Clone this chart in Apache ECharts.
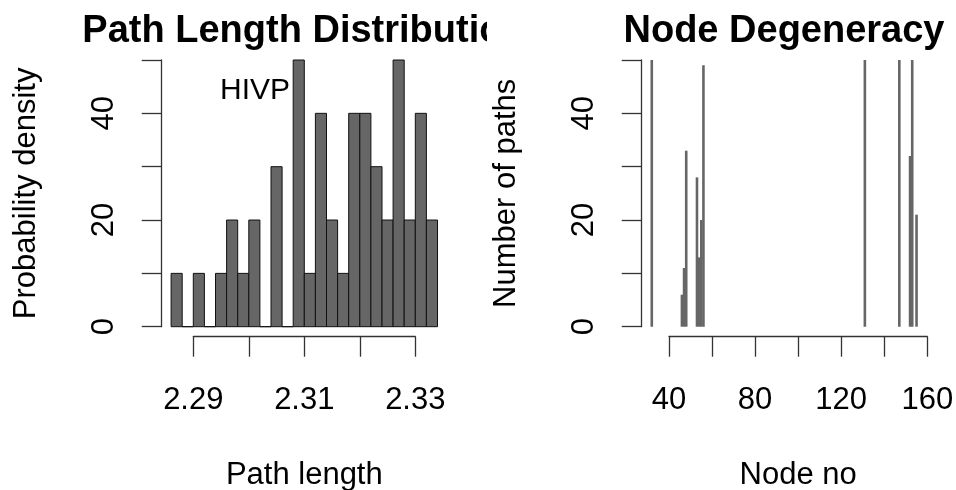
<!DOCTYPE html>
<html>
<head>
<meta charset="utf-8">
<script src="https://cdn.jsdelivr.net/npm/echarts@6/dist/echarts.min.js"></script>
<style>
html,body{margin:0;padding:0;background:#fff;}
#chart{width:956px;height:490px;}
</style>
</head>
<body>
<div id="chart"></div>
<script>
// Left panel: histogram of path lengths
const pathBreaks = [2.286, 2.288, 2.290, 2.292, 2.294, 2.296, 2.298, 2.300, 2.302, 2.304, 2.306, 2.308, 2.310,
                    2.312, 2.314, 2.316, 2.318, 2.320, 2.322, 2.324, 2.326, 2.328, 2.330, 2.332, 2.334];
const pathDensity = [10, 0, 10, 0, 10, 20, 10, 20, 0, 30, 0, 50, 10, 40, 20, 10, 40, 40, 30, 20, 50, 20, 40, 20];
const pathTicks = [2.29, 2.30, 2.31, 2.32, 2.33];

// Right panel: node degeneracy
const nodeNo    = [32, 46, 47, 48, 53, 54, 55, 56, 131, 147, 152, 153, 155];
const nodePaths = [50,  6, 11, 33, 28, 13, 20, 49,  50,  50,  32,  50,  21];
const nodeTicks = [40, 60, 80, 100, 120, 140, 160];
const countTicks = [0, 10, 20, 30, 40, 50];

const FONT = 'Liberation Sans, Arial, Helvetica, sans-serif';
const AXIS_COLOR = '#333';

const histData = pathDensity.map((d, i) => [pathBreaks[i], pathBreaks[i + 1], d]);
const nodeData = nodeNo.map((n, i) => [n, nodePaths[i]]);

function yAxisCfg(gridIndex, offset, name) {
  return {
    type: 'value', gridIndex, min: countTicks[0], max: countTicks[countTicks.length - 1], interval: 10,
    offset,
    name, nameLocation: 'middle', nameGap: 120,
    nameTextStyle: {fontFamily: FONT, fontSize: 31, color: '#000'},
    axisLine: {show: true, lineStyle: {color: AXIS_COLOR, width: 1.3}},
    axisTick: {show: true, length: 20, lineStyle: {color: AXIS_COLOR, width: 1.3}},
    axisLabel: {
      show: true, rotate: 90, margin: 42, fontFamily: FONT, fontSize: 31, color: '#000',
      formatter: v => (v % 20 === 0 ? String(v) : '')
    },
    splitLine: {show: false}
  };
}

function xAxisCfg(gridIndex, ticks, interval, name, fmt) {
  return {
    type: 'value', gridIndex, min: ticks[0], max: ticks[ticks.length - 1], interval,
    offset: 10,
    name, nameLocation: 'middle', nameGap: 123,
    nameTextStyle: {fontFamily: FONT, fontSize: 31, color: '#000'},
    axisLine: {show: true, onZero: false, lineStyle: {color: AXIS_COLOR, width: 1.3}},
    axisTick: {show: true, length: 20, lineStyle: {color: AXIS_COLOR, width: 1.3}},
    axisLabel: {show: true, margin: 48, fontFamily: FONT, fontSize: 31, color: '#000', formatter: fmt},
    splitLine: {show: false}
  };
}

const option = {
  animation: false,
  backgroundColor: '#fff',
  grid: [
    {left: 193.3, width: 222, top: 60, height: 266.7, containLabel: false, outerBoundsMode: 'none'},
    {left: 669, width: 258.3, top: 60, height: 266.7, containLabel: false, outerBoundsMode: 'none'}
  ],
  xAxis: [
    xAxisCfg(0, pathTicks, 0.01, 'Path length', (v, idx) => (idx % 2 === 0 ? v.toFixed(2) : '')),
    xAxisCfg(1, nodeTicks, 20, 'Node no', (v, idx) => (idx % 2 === 0 ? String(v) : ''))
  ],
  yAxis: [
    yAxisCfg(0, 31.6, 'Probability density'),
    yAxisCfg(1, 27.3, 'Number of paths')
  ],
  series: [
    {
      type: 'custom', xAxisIndex: 0, yAxisIndex: 0, clip: false,
      data: histData,
      encode: {x: [0, 1], y: 2},
      renderItem: function (params, api) {
        const p0 = api.coord([api.value(0), api.value(2)]);
        const p1 = api.coord([api.value(1), 0]);
        return {
          type: 'rect',
          shape: {x: p0[0], y: p0[1], width: p1[0] - p0[0], height: p1[1] - p0[1]},
          style: {fill: '#666666', stroke: '#111', lineWidth: 1}
        };
      }
    },
    {
      type: 'custom', xAxisIndex: 1, yAxisIndex: 1, clip: false,
      data: nodeData,
      encode: {x: 0, y: 1},
      renderItem: function (params, api) {
        const top = api.coord([api.value(0), api.value(1)]);
        const base = api.coord([api.value(0), 0]);
        const w = 2.6;
        return {
          type: 'rect',
          shape: {x: top[0] - w / 2, y: top[1], width: w, height: base[1] - top[1]},
          style: {fill: '#666666'}
        };
      }
    }
  ],
  graphic: [
    {
      type: 'text', x: 304, y: 32, z: 50,
      style: {text: 'Path Length Distribution', align: 'center', verticalAlign: 'middle',
              fontFamily: FONT, fontWeight: 'bold', fontSize: 38, fill: '#000'}
    },
    {
      type: 'rect', z: 60, shape: {x: 487, y: 0, width: 110, height: 58}, style: {fill: '#fff'}
    },
    {
      type: 'text', x: 784, y: 32, z: 50,
      style: {text: 'Node Degeneracy', align: 'center', verticalAlign: 'middle',
              fontFamily: FONT, fontWeight: 'bold', fontSize: 38, fill: '#000'}
    },
    {
      type: 'text', x: 255, y: 91, z: 50,
      style: {text: 'HIVP', align: 'center', verticalAlign: 'middle',
              fontFamily: FONT, fontSize: 30, fill: '#000'}
    }
  ]
};

const chart = echarts.init(document.getElementById('chart'), null, {renderer: 'canvas'});
chart.setOption(option);
</script>
</body>
</html>
